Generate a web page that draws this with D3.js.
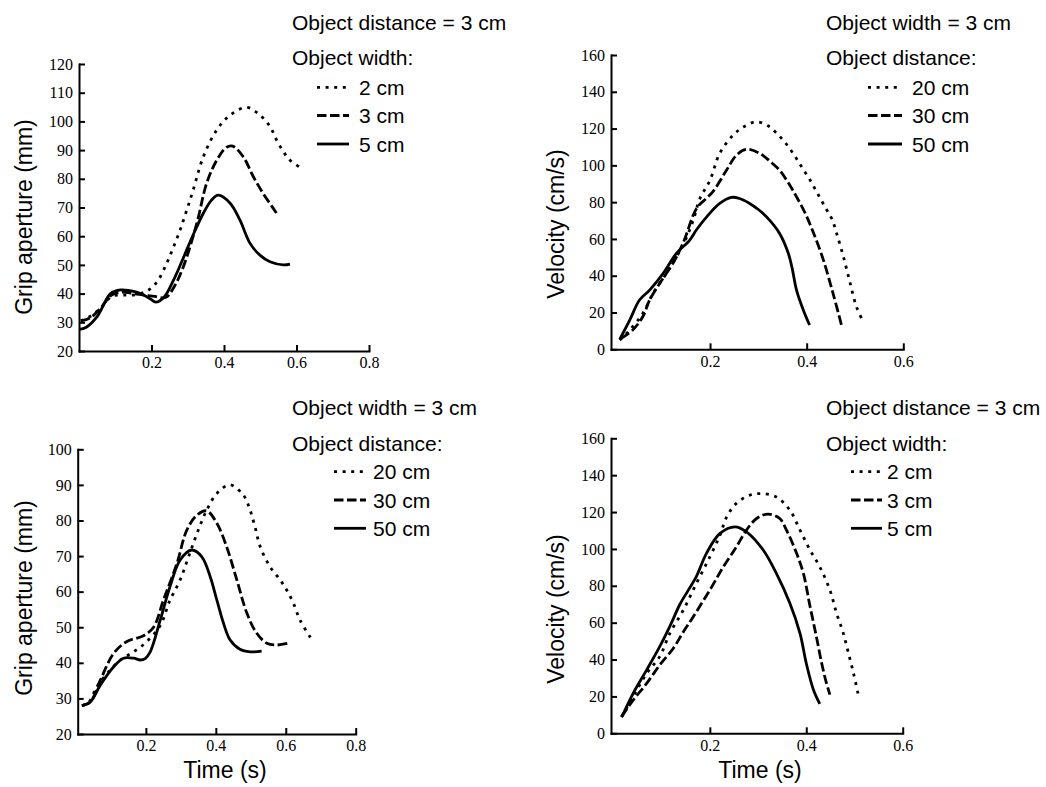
<!DOCTYPE html>
<html>
<head>
<meta charset="utf-8">
<script src="https://cdn.jsdelivr.net/npm/d3@7"></script>
<style>
  html, body { margin: 0; padding: 0; background: #fff; }
  svg { display: block; }
</style>
</head>
<body>
<script>
// ---------- DATA ----------
// Panel A: grip aperture (mm) vs time (s), object widths 2/3/5 cm
const gaWidthTime2 = [0.005, 0.03, 0.06, 0.09, 0.12, 0.15, 0.18, 0.2, 0.22, 0.242, 0.26, 0.279, 0.297, 0.315, 0.343, 0.38, 0.417, 0.463, 0.499, 0.527, 0.545, 0.564, 0.582, 0.607];
const gaWidthVal2  = [30.5, 32, 35, 39, 39.5, 39.5, 40.5, 42, 45, 50.6, 56, 62.2, 69, 76.1, 87.7, 97, 102.2, 104.9, 102.2, 98.2, 93.5, 89.4, 86.5, 84.2];
const gaWidthTime3 = [0.005, 0.03, 0.06, 0.09, 0.12, 0.15, 0.18, 0.21, 0.24, 0.263, 0.288, 0.325, 0.352, 0.38, 0.407, 0.424, 0.453, 0.481, 0.508, 0.536, 0.55];
const gaWidthVal3  = [30.5, 31.5, 35, 39.5, 40.5, 40, 39.5, 39, 38.7, 42.5, 49.4, 64.5, 78.4, 86.5, 91, 91.4, 87.7, 80.7, 74.9, 69.7, 67];
const gaWidthTime5 = [0.0, 0.02, 0.05, 0.087, 0.115, 0.14, 0.17, 0.195, 0.212, 0.235, 0.26, 0.283, 0.315, 0.343, 0.365, 0.384, 0.417, 0.444, 0.472, 0.499, 0.527, 0.564, 0.582];
const gaWidthVal5  = [27.5, 28.3, 32, 40, 41.3, 41, 40, 38.3, 37, 38.8, 44.5, 51, 60.5, 68, 72.5, 74.3, 71.5, 65.6, 57.5, 53.4, 51.1, 50, 50.3];

// Panel B: velocity (cm/s) vs time (s), object distances 20/30/50 cm
const velDistTime20 = [0.013, 0.034, 0.061, 0.082, 0.109, 0.144, 0.165, 0.179, 0.2, 0.22, 0.248, 0.27, 0.296, 0.32, 0.338, 0.355, 0.372, 0.39, 0.407, 0.424, 0.441, 0.452, 0.462, 0.476, 0.49, 0.503, 0.517];
const velDistVal20  = [5, 10.5, 19.6, 30.4, 41, 56.7, 70, 82, 92, 106.5, 116.5, 121, 123.7, 121.5, 117.4, 112.5, 106.5, 99, 92, 84, 76, 71, 63, 50.4, 35.9, 23.2, 15];
const velDistTime30 = [0.016, 0.04, 0.061, 0.075, 0.096, 0.123, 0.144, 0.172, 0.19, 0.206, 0.234, 0.255, 0.275, 0.303, 0.325, 0.344, 0.362, 0.379, 0.396, 0.413, 0.434, 0.455, 0.472];
const velDistVal30  = [6, 10.5, 17.8, 26.8, 35.9, 46.7, 57.6, 76.6, 81.5, 85.7, 97.4, 105.6, 108.7, 106.5, 102, 97.4, 90.5, 82.9, 74.5, 64, 49, 30, 13.2];
const velDistTime50 = [0.013, 0.034, 0.054, 0.075, 0.103, 0.13, 0.158, 0.172, 0.193, 0.22, 0.244, 0.261, 0.282, 0.3, 0.317, 0.344, 0.362, 0.37, 0.379, 0.393, 0.406];
const velDistVal50  = [5.4, 16, 26.8, 32.2, 41.3, 52, 59.4, 65, 72, 79.3, 82.6, 82, 79.3, 76, 72, 63, 52.2, 44, 32.2, 21.4, 13.2];

// Panel C: grip aperture (mm) vs time (s), object distances 20/30/50 cm
const gaDistTime20 = [0.017, 0.036, 0.06, 0.089, 0.127, 0.165, 0.203, 0.241, 0.269, 0.298, 0.322, 0.346, 0.374, 0.403, 0.44, 0.479, 0.498, 0.512, 0.527, 0.555, 0.584, 0.603, 0.622, 0.641, 0.675];
const gaDistVal20  = [28, 28.8, 33.3, 37, 40.8, 43.1, 46, 50.5, 57.6, 63.3, 69.8, 76.3, 82.9, 87.6, 90, 87.1, 82.9, 78.2, 72.6, 67, 63.3, 60.4, 56.7, 52, 46.4];
const gaDistTime30 = [0.017, 0.041, 0.07, 0.108, 0.146, 0.193, 0.222, 0.25, 0.289, 0.317, 0.346, 0.374, 0.403, 0.431, 0.46, 0.489, 0.517, 0.546, 0.574, 0.612];
const gaDistVal30  = [28, 29, 35.2, 42.7, 46, 47.6, 50, 57.6, 68, 77.3, 81.5, 82.7, 79.2, 72.6, 63.3, 53.9, 48.3, 45.5, 45, 45.6];
const gaDistTime50 = [0.017, 0.041, 0.07, 0.108, 0.136, 0.165, 0.184, 0.198, 0.212, 0.241, 0.269, 0.298, 0.331, 0.36, 0.384, 0.403, 0.422, 0.441, 0.469, 0.498, 0.531];
const gaDistVal50  = [28, 29, 33.8, 38.9, 41.3, 41.3, 40.8, 41.2, 43, 52, 61.4, 68.9, 71.7, 69.8, 64.2, 57.6, 51.1, 46.4, 43.8, 43.1, 43.3];

// Panel D: velocity (cm/s) vs time (s), object widths 2/3/5 cm
const velWidthTime2 = [0.017, 0.041, 0.069, 0.096, 0.117, 0.145, 0.172, 0.2, 0.221, 0.235, 0.255, 0.283, 0.307, 0.338, 0.366, 0.387, 0.408, 0.428, 0.449, 0.463, 0.476, 0.487, 0.498, 0.508];
const velWidthVal2  = [9, 19.9, 32.5, 41.6, 54.2, 66.8, 81.3, 95.7, 107.5, 117.4, 124.7, 129.2, 130, 128.2, 121, 110.2, 99.3, 90.3, 77.7, 65, 55, 44, 32.5, 20.8];
const velWidthTime3 = [0.017, 0.041, 0.069, 0.096, 0.124, 0.145, 0.165, 0.2, 0.228, 0.255, 0.276, 0.297, 0.321, 0.345, 0.359, 0.38, 0.394, 0.408, 0.421, 0.432, 0.441, 0.449];
const velWidthVal3  = [9, 18, 27.1, 37, 46, 55, 63, 77.7, 90.3, 101.1, 110.2, 116.5, 118.9, 116.5, 110.2, 97.6, 86.7, 68.6, 52.4, 38, 28, 21];
const velWidthTime5 = [0.017, 0.041, 0.069, 0.096, 0.117, 0.138, 0.155, 0.172, 0.193, 0.221, 0.252, 0.276, 0.311, 0.338, 0.366, 0.387, 0.4, 0.415, 0.428];
const velWidthVal5  = [8.7, 21.7, 34.4, 47, 58, 70, 77.5, 85, 97.6, 108.4, 112, 109.3, 99.3, 86.7, 70.5, 54.2, 38, 23.5, 16];

// Tick values
const timeTicks08 = [0.2, 0.4, 0.6, 0.8];
const timeTicks06 = [0.2, 0.4, 0.6];
const gripTicksA = [20, 30, 40, 50, 60, 70, 80, 90, 100, 110, 120];
const gripTicksC = [20, 30, 40, 50, 60, 70, 80, 90, 100];
const velTicks = [0, 20, 40, 60, 80, 100, 120, 140, 160];

// Legend / annotation text
const widthLabels = ["2 cm", "3 cm", "5 cm"];
const distLabels = ["20 cm", "30 cm", "50 cm"];

// ---------- DRAWING ----------
const W = 1046, H = 787;
const svg = d3.select("body").append("svg").attr("width", W).attr("height", H);

const styles = {
  dotted: "3,5.6",
  dashed: "9.5,3.5",
  solid: null
};
const styleOrder = ["dotted", "dashed", "solid"];
const serif = "'Liberation Serif', 'Times New Roman', Times, serif";
const sans = "'Liberation Sans', Arial, Helvetica, sans-serif";

function zip(ts, vs) { return ts.map((t, i) => [t, vs[i]]); }

const panels = [
  {
    xDomain: [0, 0.8], xRange: [79, 369],
    yDomain: [20, 120], yRange: [351, 64],
    xTicks: timeTicks08, yTicks: gripTicksA,
    yLabel: "Grip aperture (mm)", yLabelPos: [32, 217],
    series: [zip(gaWidthTime2, gaWidthVal2), zip(gaWidthTime3, gaWidthVal3), zip(gaWidthTime5, gaWidthVal5)],
    legend: { head1: "Object distance = 3 cm", head2: "Object width:", labels: widthLabels,
              hx: 292, h1y: 30, h2y: 65, rowY: [87.3, 115.5, 144], lx: [317, 349], tx: 359 }
  },
  {
    xDomain: [-0.005, 0.6], xRange: [611, 903.3],
    yDomain: [0, 160], yRange: [349.3, 55],
    xTicks: timeTicks06, yTicks: velTicks,
    yLabel: "Velocity (cm/s)", yLabelPos: [564, 224],
    series: [zip(velDistTime20, velDistVal20), zip(velDistTime30, velDistVal30), zip(velDistTime50, velDistVal50)],
    legend: { head1: "Object width = 3 cm", head2: "Object distance:", labels: distLabels,
              hx: 826, h1y: 30, h2y: 65, rowY: [87.3, 115.5, 144], lx: [868, 902], tx: 912 }
  },
  {
    xDomain: [0.005, 0.8], xRange: [77.7, 355.7],
    yDomain: [20, 100], yRange: [734, 449.3],
    xTicks: timeTicks08, yTicks: gripTicksC,
    yLabel: "Grip aperture (mm)", yLabelPos: [32, 598],
    xLabel: "Time (s)", xLabelPos: [225, 778],
    series: [zip(gaDistTime20, gaDistVal20), zip(gaDistTime30, gaDistVal30), zip(gaDistTime50, gaDistVal50)],
    legend: { head1: "Object width = 3 cm", head2: "Object distance:", labels: distLabels,
              hx: 292, h1y: 414.5, h2y: 450.5, rowY: [471.7, 500, 528.3], lx: [334, 366], tx: 373 }
  },
  {
    xDomain: [-0.005, 0.6], xRange: [611, 902.7],
    yDomain: [0, 160], yRange: [733.3, 438.3],
    xTicks: timeTicks06, yTicks: velTicks,
    yLabel: "Velocity (cm/s)", yLabelPos: [564, 609],
    xLabel: "Time (s)", xLabelPos: [760, 778],
    series: [zip(velWidthTime2, velWidthVal2), zip(velWidthTime3, velWidthVal3), zip(velWidthTime5, velWidthVal5)],
    legend: { head1: "Object distance = 3 cm", head2: "Object width:", labels: widthLabels,
              hx: 826, h1y: 414.5, h2y: 450.5, rowY: [471.7, 500, 528.3], lx: [851, 882], tx: 887 }
  }
];

panels.forEach(p => {
  const x = d3.scaleLinear().domain(p.xDomain).range(p.xRange);
  const y = d3.scaleLinear().domain(p.yDomain).range(p.yRange);
  const g = svg.append("g");

  // curves
  const line = d3.line().x(d => x(d[0])).y(d => y(d[1])).curve(d3.curveCatmullRom.alpha(0.5));
  p.series.forEach((s, i) => {
    const st = styleOrder[i];
    g.append("path")
      .datum(s)
      .attr("d", line)
      .attr("fill", "none")
      .attr("stroke", "#000")
      .attr("stroke-width", 2.8)
      .attr("stroke-linejoin", "round")
      .attr("stroke-dasharray", styles[st]);
  });

  // axes
  const xAxis = d3.axisBottom(x).tickValues(p.xTicks).tickSize(-6).tickSizeOuter(0).tickPadding(6)
    .tickFormat(d3.format(".1f"));
  const yAxis = d3.axisLeft(y).tickValues(p.yTicks).tickSize(-6).tickSizeOuter(0).tickPadding(6)
    .tickFormat(d3.format("d"));
  const gx = g.append("g").attr("transform", `translate(0,${p.yRange[0]})`).call(xAxis);
  const gy = g.append("g").attr("transform", `translate(${p.xRange[0]},0)`).call(yAxis);
  [gx, gy].forEach(a => {
    a.select(".domain").attr("stroke", "#000").attr("stroke-width", 2).attr("stroke-linecap", "square");
    a.selectAll(".tick line").attr("stroke", "#000").attr("stroke-width", 2);
    a.selectAll(".tick text").attr("fill", "#000").style("font-family", serif).style("font-size", "16px");
  });
  gx.attr("font-size", null).attr("font-family", null);
  gy.attr("font-size", null).attr("font-family", null);

  // axis labels
  g.append("text")
    .attr("transform", `translate(${p.yLabelPos[0]},${p.yLabelPos[1]}) rotate(-90)`)
    .attr("text-anchor", "middle")
    .style("font-family", sans).style("font-size", "23px")
    .text(p.yLabel);
  if (p.xLabel) {
    g.append("text")
      .attr("x", p.xLabelPos[0]).attr("y", p.xLabelPos[1])
      .attr("text-anchor", "middle")
      .style("font-family", sans).style("font-size", "23px")
      .text(p.xLabel);
  }

  // legend
  const L = p.legend;
  const lg = g.append("g").style("font-family", sans).style("font-size", "21px");
  lg.append("text").attr("x", L.hx).attr("y", L.h1y).text(L.head1);
  lg.append("text").attr("x", L.hx).attr("y", L.h2y).text(L.head2);
  L.labels.forEach((lab, i) => {
    const yy = L.rowY[i];
    lg.append("line")
      .attr("x1", L.lx[0]).attr("x2", L.lx[1]).attr("y1", yy).attr("y2", yy)
      .attr("stroke", "#000").attr("stroke-width", 2.8)
      .attr("stroke-dasharray", styles[styleOrder[i]]);
    lg.append("text").attr("x", L.tx).attr("y", yy + 7.5).text(lab);
  });
});
</script>
</body>
</html>
